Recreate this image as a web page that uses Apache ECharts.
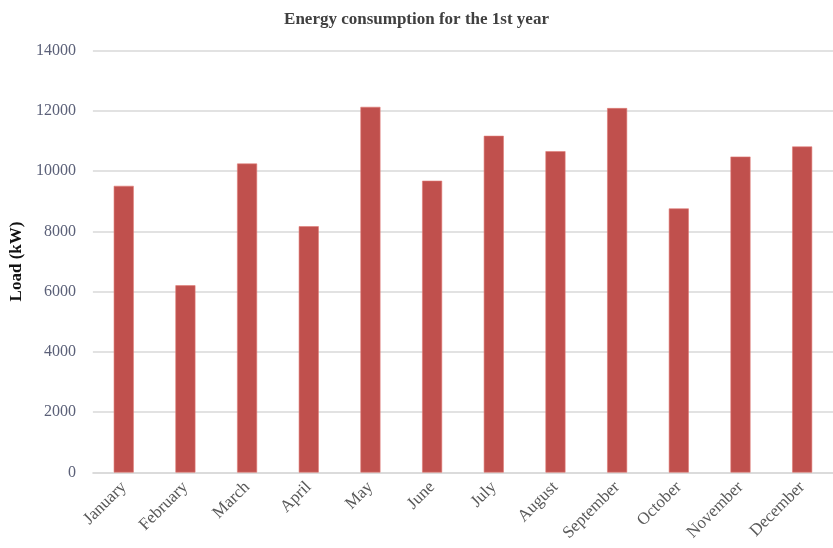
<!DOCTYPE html>
<html>
<head>
<meta charset="utf-8">
<script src="https://cdn.jsdelivr.net/npm/echarts@6/dist/echarts.min.js"></script>
<style>
  html, body { margin: 0; padding: 0; background: #fff; }
  #chart { width: 833px; height: 548px; }
</style>
</head>
<body>
<div id="chart"></div>
<script>
// months on the x axis
const months = ['January', 'February', 'March', 'April', 'May', 'June',
  'July', 'August', 'September', 'October', 'November', 'December']
// load per month (kW)
const loads = [9510, 6210, 10250, 8170, 12130, 9680, 11170, 10660, 12090, 8760, 10480, 10815]
const yTicks = [0, 2000, 4000, 6000, 8000, 10000, 12000, 14000]

const chart = echarts.init(document.getElementById('chart'))
chart.setOption({
  animation: false,
  title: {
    text: 'Energy consumption for the 1st year',
    left: 'center',
    top: 6,
    textStyle: {
      fontFamily: 'Liberation Serif',
      fontWeight: 'bold',
      fontSize: 17,
      color: '#404040'
    }
  },
  grid: {
    left: 89,
    right: -8,
    top: 50.5,
    bottom: 75.5
  },
  xAxis: {
    type: 'category',
    data: months,
    axisLine: { lineStyle: { color: '#d9d9d9', width: 1.5 } },
    axisTick: { show: false },
    axisLabel: {
      rotate: 45,
      interval: 0,
      margin: 12,
      fontFamily: 'Liberation Serif',
      fontSize: 17,
      color: '#595959'
    }
  },
  yAxis: {
    type: 'value',
    min: yTicks[0],
    max: yTicks[yTicks.length - 1],
    interval: 2000,
    name: 'Load (kW)',
    nameLocation: 'middle',
    nameGap: 66,
    nameTextStyle: {
      fontFamily: 'Liberation Serif',
      fontWeight: 'bold',
      fontSize: 17,
      color: '#111'
    },
    axisLine: { show: false },
    axisTick: { show: false },
    axisLabel: {
      margin: 17,
      fontFamily: 'Liberation Serif',
      fontSize: 16,
      color: '#5b6078',
      formatter: v => String(v)
    },
    splitLine: { lineStyle: { color: '#d9d9d9', width: 1.5 } }
  },
  series: [{
    type: 'bar',
    data: loads,
    barWidth: 20,
    itemStyle: {
      color: '#c0504d',
      borderColor: '#e07a76',
      borderWidth: 0.6
    }
  }]
})
</script>
</body>
</html>
